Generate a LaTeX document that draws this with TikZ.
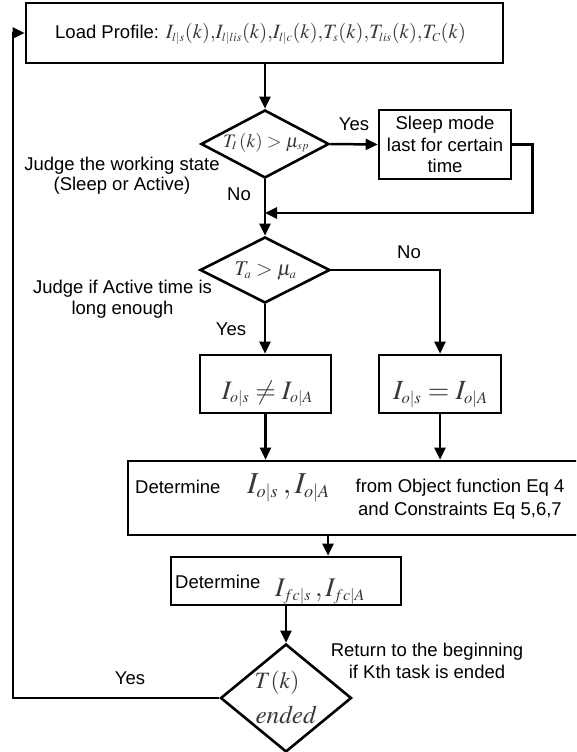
\documentclass[tikz,border=0pt]{standalone}
\usepackage{mathptmx}
\usepackage[no-math]{fontspec}
\setmainfont{Liberation Sans}
\usepackage{graphicx}
\usetikzlibrary{shapes.geometric,arrows.meta}

% math set to a fixed width
\newcommand\fitmath[2]{\resizebox{#1}{!}{$#2$}}
% small subscript
\newcommand\smsub[1]{_{\scriptscriptstyle #1}}
\colorlet{mathgray}{black!78}

\begin{document}
\begin{tikzpicture}[x=1pt,y=-1pt,
  every node/.style={font=\fontsize{18.5}{22}\selectfont, inner sep=0pt},
  frame/.style={draw, line width=2.6pt, rectangle},
  dbox/.style={draw, line width=2.6pt, diamond, inner sep=0pt},
  link/.style={line width=2.5pt, -{Triangle[length=12pt,width=11pt]}},
  mth/.style={text=mathgray},
]
\clip (0,0) rectangle (576,752);

% ---- boxes and decisions ----
\node[frame, minimum width=477pt, minimum height=60pt] (top) at (264.5,33) {};
\node[anchor=base west] (toptext) at (55,38.5) {Load Profile: {\color{mathgray}\fitmath{300pt}{I\smsub{l|s}(k){,}I\smsub{l|lis}(k){,}I\smsub{l|c}(k){,}T\smsub{s}(k){,}T\smsub{lis}(k){,}T\smsub{C}(k)}}};

\node[dbox, minimum width=128pt, minimum height=68pt] (d1) at (265,144) {};
\node[anchor=base, mth] (d1txt) at (266,147) {\fitmath{86pt}{T\smsub{I}\,(k) > \mu\smsub{sp}}};

\node[frame, minimum width=132pt, minimum height=69pt, align=center,
      font=\fontsize{18.5}{21.7}\selectfont] (sleep) at (445,144.5) {Sleep mode\\last for certain\\time};
\coordinate (m1) at (265,213);

\node[dbox, minimum width=130pt, minimum height=66pt] (d2) at (265,270) {};
\node[anchor=base, mth] (d2txt) at (265.5,275) {\fitmath{62pt}{T\smsub{a} > \mu\smsub{a}}};

\node[frame, minimum width=131pt, minimum height=58pt] (neq) at (265.5,384) {};
\node[anchor=base, mth] (neqtxt) at (267.5,399) {\fitmath{91pt}{I\smsub{o|s}\neq I\smsub{o|A}}};
\node[frame, minimum width=122pt, minimum height=58pt] (eq) at (440,384) {};
\node[anchor=base, mth] (eqtxt) at (440.5,399) {\fitmath{95pt}{I\smsub{o|s}=I\smsub{o|A}}};

\node[frame, minimum width=450pt, minimum height=74pt] (det) at (353,498) {};
\node[anchor=base west] (dettxt) at (135,493) {Determine};
\node[anchor=base west, mth] (detmath) at (247,493) {\fitmath{83pt}{I\smsub{o|s}\:,I\smsub{o|A}}};
\node[align=center, font=\fontsize{18.5}{23}\selectfont] (detnote) at (460,499.5) {from Object function Eq 4\\and Constraints Eq 5,6,7};

\node[frame, minimum width=230pt, minimum height=48pt] (fc) at (286,581) {};
\node[anchor=base west] (fctxt) at (175,588) {Determine};
\node[anchor=base west, mth] (fcmath) at (275,596) {\fitmath{90pt}{I\smsub{fc|s}\:,I\smsub{fc|A}}};

\node[dbox, minimum width=131pt, minimum height=108pt] (d3) at (286,698) {};
\node[anchor=base, mth] (d3a) at (277,688) {\fitmath{45pt}{T(k)}};
\node[anchor=base, mth] (d3b) at (286,723) {\fitmath{61pt}{\mathit{ended}}};

% ---- side labels ----
\node[anchor=base] (yes1) at (354,130) {Yes};
\node[anchor=base] (no1) at (239,200) {No};
\node[align=center, font=\fontsize{18.5}{20}\selectfont] (judge1) at (122,176) {Judge the working state\\(Sleep or Active)};
\node[anchor=base] (no2) at (409,258) {No};
\node[align=center, font=\fontsize{18.5}{21}\selectfont] (judge2) at (122.5,299.7) {Judge if Active time is\\long enough};
\node[anchor=base] (yes2) at (231,335) {Yes};
\node[anchor=base] (yes3) at (130,684) {Yes};
\node[align=center, font=\fontsize{18.5}{22}\selectfont] (ret) at (427,660.4) {Return to the beginning\\if Kth task is ended};

% ---- connectors ----
\coordinate (c1) at (328,0);
\coordinate (fb) at (13,0);
\draw[link] (top.south -| d1.north) -- (d1.north);
\draw[link] (d1.east) -- (sleep.west);
\draw[link] (d1.south) -- (d2.north);
\draw[link] (sleep.east) -- ++(20,0) |- (m1);
\draw[link] (d2.south) -- (d2.south |- neq.north);
\draw[link] (d2.east) -| (eq.north);
\draw[link] (neq.south) -- (neq.south |- det.north);
\draw[link] (eq.south) -- (eq.south |- det.north);
\draw[link] (det.south -| c1) -- (fc.north -| c1);
\draw[link] (fc.south) -- (d3.north);
\draw[link] (d3.west) -- (d3.west -| fb) |- (top.west);
\end{tikzpicture}
\end{document}
